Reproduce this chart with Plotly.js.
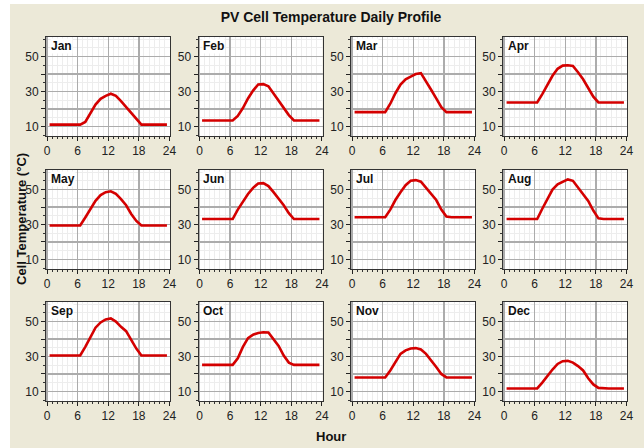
<!DOCTYPE html>
<html>
<head>
<meta charset="utf-8">
<script src="https://cdn.plot.ly/plotly-3.0.1.min.js"></script>
<style>
  html, body { margin: 0; padding: 0; background: #ffffff; }
  #chart { position: absolute; left: 10px; top: 4px; width: 634px; height: 444px; }
</style>
</head>
<body>
<div id="chart"></div>
<script>
// Hour of day (mid-hour samples)
const hours = [0.5, 1.5, 2.5, 3.5, 4.5, 5.5, 6.5, 7.5, 8.5, 9.5, 10.5, 11.5,
               12.5, 13.5, 14.5, 15.5, 16.5, 17.5, 18.5, 19.5, 20.5, 21.5, 22.5, 23.5];

const months = ['Jan', 'Feb', 'Mar', 'Apr', 'May', 'Jun',
                'Jul', 'Aug', 'Sep', 'Oct', 'Nov', 'Dec'];

// Cell temperature (°C) per hour, one list per month
const jan = [11, 11, 11, 11, 11, 11, 11, 12.5, 17.5, 22.5, 25.8, 27.5, 28.7, 27.5, 24.5, 21, 17.5, 14, 11, 11, 11, 11, 11, 11];
const feb = [13.4, 13.4, 13.4, 13.4, 13.4, 13.4, 13.4, 16, 20.5, 26, 30.5, 34, 34.2, 33, 29, 24.5, 20.5, 16.5, 13.4, 13.4, 13.4, 13.4, 13.4, 13.4];
const mar = [18.2, 18.2, 18.2, 18.2, 18.2, 18.2, 18.2, 23, 29, 34, 37, 38.5, 40, 40.5, 36, 31, 26, 21, 18.2, 18.2, 18.2, 18.2, 18.2, 18.2];
const apr = [23.7, 23.7, 23.7, 23.7, 23.7, 23.7, 23.7, 28.5, 33.5, 39, 43, 44.8, 45, 44.6, 41, 37, 32, 27, 23.7, 23.7, 23.7, 23.7, 23.7, 23.7];
const may = [29.4, 29.4, 29.4, 29.4, 29.4, 29.4, 29.4, 34, 38.5, 43.5, 46.8, 48.5, 49, 47.5, 44.5, 41, 36, 32, 29.4, 29.4, 29.4, 29.4, 29.4, 29.4];
const jun = [33.1, 33.1, 33.1, 33.1, 33.1, 33.1, 33.1, 38.5, 43, 47.5, 51, 53.5, 53.7, 52, 48.5, 45, 41, 36.5, 33.1, 33.1, 33.1, 33.1, 33.1, 33.1];
const jul = [34.1, 34.1, 34.1, 34.1, 34.1, 34.1, 34.1, 38.5, 44, 48.5, 52.5, 55, 55.4, 54.5, 51, 48, 44, 38.5, 34.5, 34.1, 34.1, 34.1, 34.1, 34.1];
const aug = [33.1, 33.1, 33.1, 33.1, 33.1, 33.1, 33.1, 39, 44.5, 50, 53, 54.5, 55.8, 55, 51, 47.5, 43.5, 38, 33.5, 33.1, 33.1, 33.1, 33.1, 33.1];
const sep = [30.6, 30.6, 30.6, 30.6, 30.6, 30.6, 30.6, 35.5, 41, 46.5, 49.5, 51.2, 51.8, 50, 47, 44.5, 39.5, 34.5, 30.6, 30.6, 30.6, 30.6, 30.6, 30.6];
const oct = [25.2, 25.2, 25.2, 25.2, 25.2, 25.2, 25.2, 29, 35.5, 40.5, 42.5, 43.5, 43.9, 43.7, 39.5, 36, 30.5, 26.5, 25.2, 25.2, 25.2, 25.2, 25.2, 25.2];
const nov = [18, 18, 18, 18, 18, 18, 18, 22, 27, 31.5, 33.5, 34.6, 34.8, 34, 31.5, 28, 24, 20, 18, 18, 18, 18, 18, 18];
const dec = [11.7, 11.7, 11.7, 11.7, 11.7, 11.7, 11.7, 15, 19, 22.5, 25.7, 27.3, 27.5, 26.5, 24.5, 22, 17.5, 14, 12, 11.7, 11.7, 11.7, 11.7, 11.7];

const series = [jan, feb, mar, apr, may, jun, jul, aug, sep, oct, nov, dec];

// Axis ticks
const xTickVals = [0, 6, 12, 18, 24];
const xTickText = ['0', '6', '12', '18', '24'];
const yTickVals = [10, 20, 30, 40, 50];
const yTickText = ['10', '', '30', '', '50'];

// Panel grid geometry (pixels inside the chart div)
const W = 634, H = 444;
const colLeft = [36, 188.5, 341, 493];
const rowTop = [33, 166, 298];
const panelW = 124, panelH = 99;

const FAMILY = '"Liberation Sans", Arial, sans-serif';
const tickFont = { family: FAMILY, size: 12, color: '#222222' };
const boldFont = { family: FAMILY, size: 13, color: '#111111' };

const traces = [];
const layout = {
  width: W, height: H,
  margin: { l: 0, r: 0, t: 0, b: 0 },
  paper_bgcolor: '#ece9d8',
  plot_bgcolor: '#ffffff',
  showlegend: false,
  title: {
    text: '<b>PV Cell Temperature Daily Profile</b>',
    font: Object.assign({}, boldFont, { size: 14 }),
    x: 321 / W, xanchor: 'center', xref: 'paper',
    y: 1 - 13 / H, yanchor: 'middle', yref: 'container'
  },
  annotations: []
};

series.forEach((vals, i) => {
  const r = Math.floor(i / 4), c = i % 4;
  const n = i + 1;
  const xa = 'x' + (n === 1 ? '' : n);
  const ya = 'y' + (n === 1 ? '' : n);
  traces.push({
    type: 'scatter', mode: 'lines',
    x: hours, y: vals,
    xaxis: xa, yaxis: ya,
    line: { color: '#d40000', width: 2.6 },
    hoverinfo: 'x+y'
  });
  const l = colLeft[c], t = rowTop[r];
  const xKey = 'xaxis' + (n === 1 ? '' : n);
  const yKey = 'yaxis' + (n === 1 ? '' : n);
  layout[xKey] = {
    domain: [l / W, (l + panelW) / W],
    anchor: ya,
    range: [-0.2, 24.1],
    tickmode: 'array', tickvals: xTickVals, ticktext: xTickText,
    ticks: 'outside', ticklen: 4, tickcolor: '#222', tickwidth: 1,
    tickfont: tickFont,
    showgrid: true, gridcolor: '#acacac', gridwidth: 1.4,
    minor: { dtick: 1, ticks: 'outside', ticklen: 2, tickcolor: '#333', showgrid: true, gridcolor: '#ededed', gridwidth: 1 },
    showline: true, linecolor: '#333333', linewidth: 1, mirror: true,
    zeroline: false, fixedrange: true
  };
  layout[yKey] = {
    domain: [1 - (t + panelH) / H, 1 - t / H],
    anchor: xa,
    range: [4.5, 61.2],
    tickmode: 'array', tickvals: yTickVals, ticktext: yTickText,
    ticks: 'outside', ticklen: 4, tickcolor: '#222', tickwidth: 1,
    tickfont: tickFont,
    showgrid: true, gridcolor: '#acacac', gridwidth: 1.4,
    minor: { dtick: 5, ticks: 'outside', ticklen: 2, tickcolor: '#333', showgrid: true, gridcolor: '#ededed', gridwidth: 1 },
    showline: true, linecolor: '#333333', linewidth: 1, mirror: true,
    zeroline: false, fixedrange: true
  };
  layout.annotations.push({
    text: '<b>' + months[i] + '</b>',
    xref: xa + ' domain', yref: ya + ' domain',
    x: 0.03, y: 0.985, xanchor: 'left', yanchor: 'top',
    showarrow: false, font: Object.assign({}, boldFont, { size: 12 }),
    bgcolor: '#ffffff', borderpad: 0
  });
});

// Shared axis titles
layout.annotations.push({
  text: '<b>Cell Temperature (°C)</b>',
  xref: 'paper', yref: 'paper',
  x: 11 / W, y: 1 - 215 / H, xanchor: 'center', yanchor: 'middle',
  textangle: -90, showarrow: false, font: boldFont
});
layout.annotations.push({
  text: '<b>Hour</b>',
  xref: 'paper', yref: 'paper',
  x: 321 / W, y: 1 - 432 / H, xanchor: 'center', yanchor: 'middle',
  showarrow: false, font: boldFont
});

Plotly.newPlot('chart', traces, layout, { displayModeBar: false, staticPlot: true });
</script>
</body>
</html>
